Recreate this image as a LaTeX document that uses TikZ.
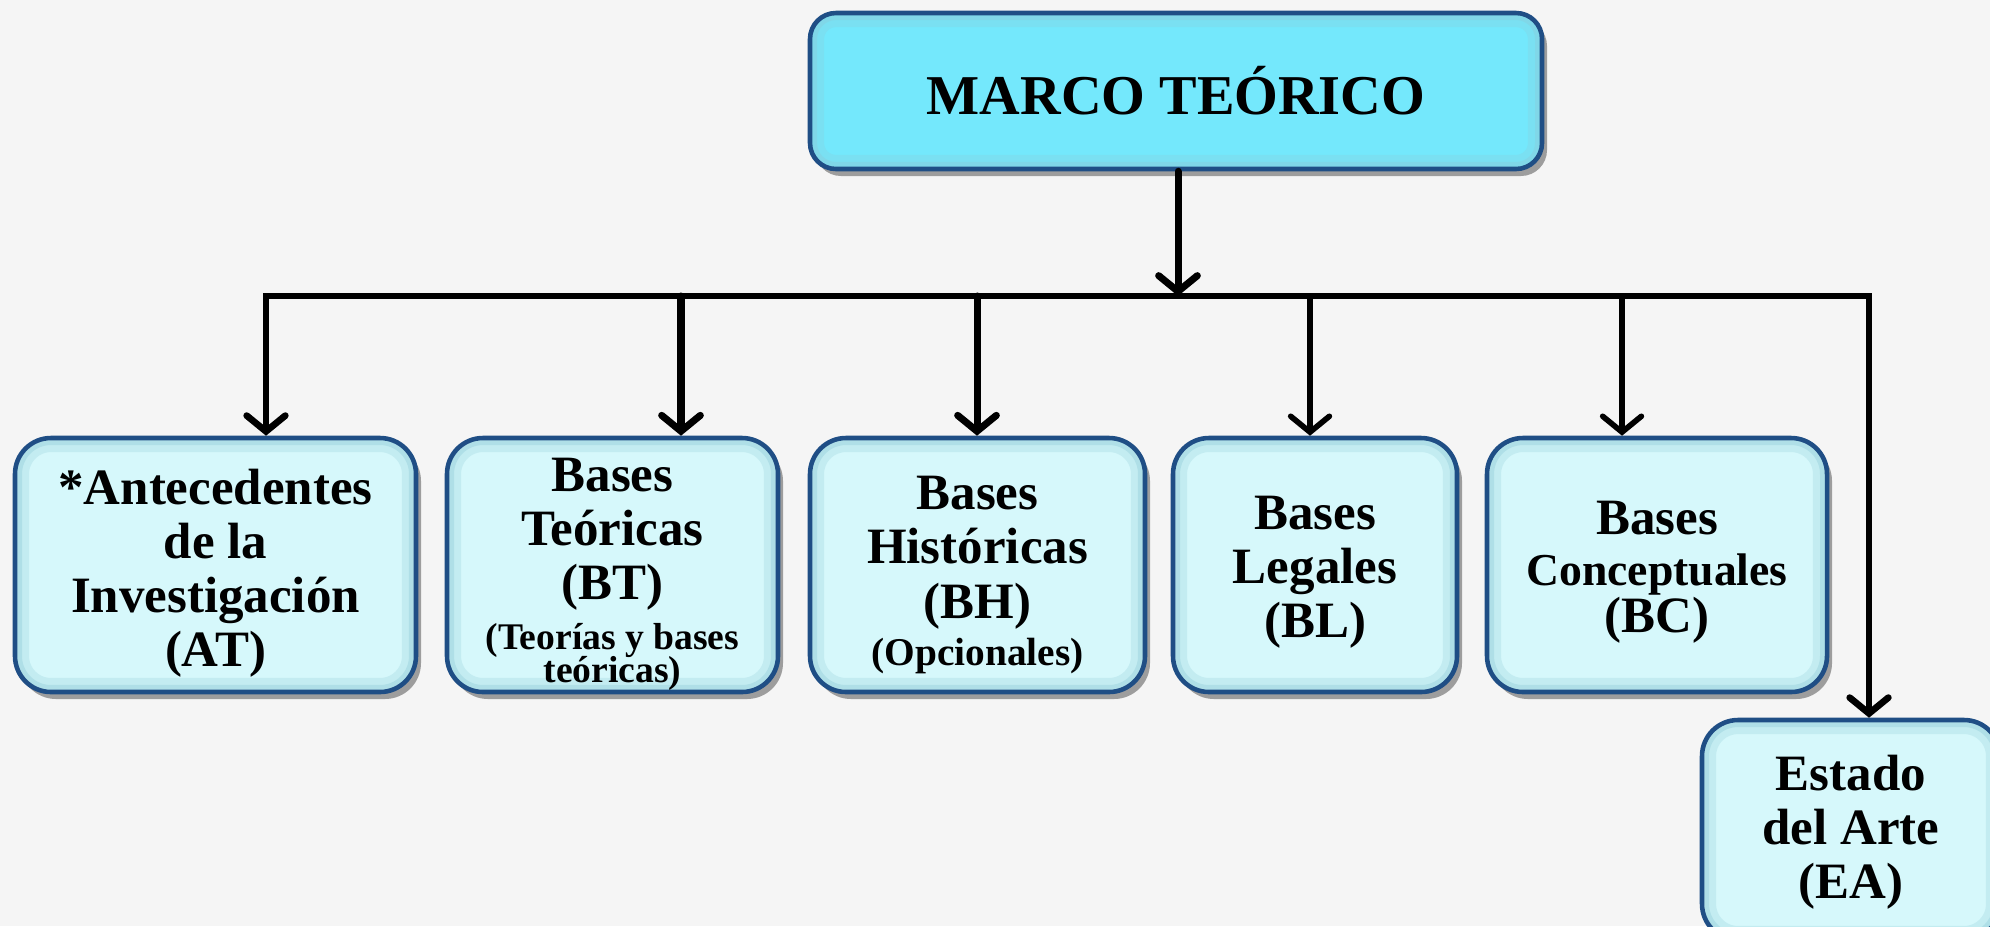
\documentclass[tikz,border=0pt]{standalone}
\usepackage{fontspec}
\setmainfont{Liberation Serif}
\usetikzlibrary{arrows.meta,shadows}
\definecolor{bgc}{HTML}{F5F5F5}
\definecolor{topfill}{HTML}{74E8FC}
\definecolor{boxfill}{HTML}{D6F8FB}
\definecolor{bevel}{HTML}{8CC9D6}
\definecolor{edge}{HTML}{1F4E85}
\begin{document}
\begin{tikzpicture}[x=1cm,y=1cm,
  txt/.style={font=\bfseries\fontsize{14.5}{15.4}\selectfont, align=center, inner sep=0pt},
  box/.style={draw=edge, line width=1.3pt, fill=boxfill, rounded corners=#1,
    inner sep=0pt,
    path picture={
      \draw[bevel, opacity=0.25, line width=8pt, rounded corners=#1]
        (path picture bounding box.south west) rectangle (path picture bounding box.north east);
      \draw[bevel, opacity=0.35, line width=4pt, rounded corners=#1]
        (path picture bounding box.south west) rectangle (path picture bounding box.north east);
    },
    drop shadow={shadow xshift=0.5mm, shadow yshift=-0.7mm, opacity=0.45, fill=black!80}},
  box/.default=3.6mm,
  topbox/.style={box=2.6mm, fill=topfill,
    font=\bfseries\fontsize{16}{18}\selectfont},
  tip/.tip={Straight Barb[length=4.5pt,width=11pt,line cap=round]},
  arr/.style={-tip, line width=1.6pt, line cap=round},
  thickarr/.style={arr, line width=2pt},
]
\useasboundingbox[fill=bgc] (0,0) rectangle (19.90,-9.26);

\node[topbox, minimum width=7.32cm, minimum height=1.56cm] (MT) at (11.76,-0.91) {MARCO TEÓRICO};

\node[box, minimum width=4.01cm, minimum height=2.54cm] (AT) at (2.155,-5.65) {};
\node[box, minimum width=3.31cm, minimum height=2.54cm] (BT) at (6.125,-5.65) {};
\node[box, minimum width=3.35cm, minimum height=2.54cm] (BH) at (9.775,-5.65) {};
\node[box, minimum width=2.84cm, minimum height=2.54cm] (BL) at (13.15,-5.65) {};
\node[box, minimum width=3.40cm, minimum height=2.54cm] (BC) at (16.57,-5.65) {};
\node[box, minimum width=2.98cm, minimum height=2.20cm] (EA) at (18.51,-8.30) {};

\node[txt] (ATt) at ([yshift=-0.08cm]AT.center)
  {*Antecedentes\\ de la\\ Investigación\\ (AT)};
\node[txt] (BTt) at ([yshift=-0.09cm]BT.center)
  {Bases\\ Teóricas\\ (BT)\\[-1.3pt] {\fontsize{10.7}{15.4}\selectfont (Teorías y bases}\\[-6pt] {\fontsize{10.7}{15.4}\selectfont teóricas)}};
\node[txt] (BHt) at ([yshift=-0.10cm]BH.center)
  {Bases\\ Históricas\\ (BH)\\[-2pt] {\fontsize{11.2}{15.4}\selectfont (Opcionales)}};
\node[txt] (BLt) at ([yshift=-0.07cm]BL.center)
  {Bases\\ Legales\\ (BL)};
\node[txt] (BCt) at ([yshift=-0.07cm]BC.center)
  {Bases\\[-0.9pt] {\fontsize{13}{15.4}\selectfont Conceptuales}\\[-2pt] (BC)};
\node[txt] (EAt) at ([yshift=-0.02cm]EA.center)
  {Estado\\ del Arte\\ (EA)};

\coordinate (jAT) at (2.66,-2.96);
\coordinate (jBT) at (6.81,-2.96);
\coordinate (jBH) at (9.77,-2.96);
\coordinate (jBL) at (13.10,-2.96);
\coordinate (jBC) at (16.22,-2.96);
\coordinate (jEA) at (18.69,-2.96);
\coordinate (jMT) at (11.78,-2.96);

\draw[line width=1.9pt, line join=miter, tip-tip]
  (jAT |- AT.north) -- (jAT) -- (jEA) -- (jEA |- EA.north);
\draw[thickarr] (jMT |- MT.south) -- (jMT);
\draw[thickarr] (jBT) -- (jBT |- BT.north);
\draw[thickarr] (jBH) -- (jBH |- BH.north);
\draw[arr] (jBL) -- (jBL |- BL.north);
\draw[arr] (jBC) -- (jBC |- BC.north);
\end{tikzpicture}
\end{document}
